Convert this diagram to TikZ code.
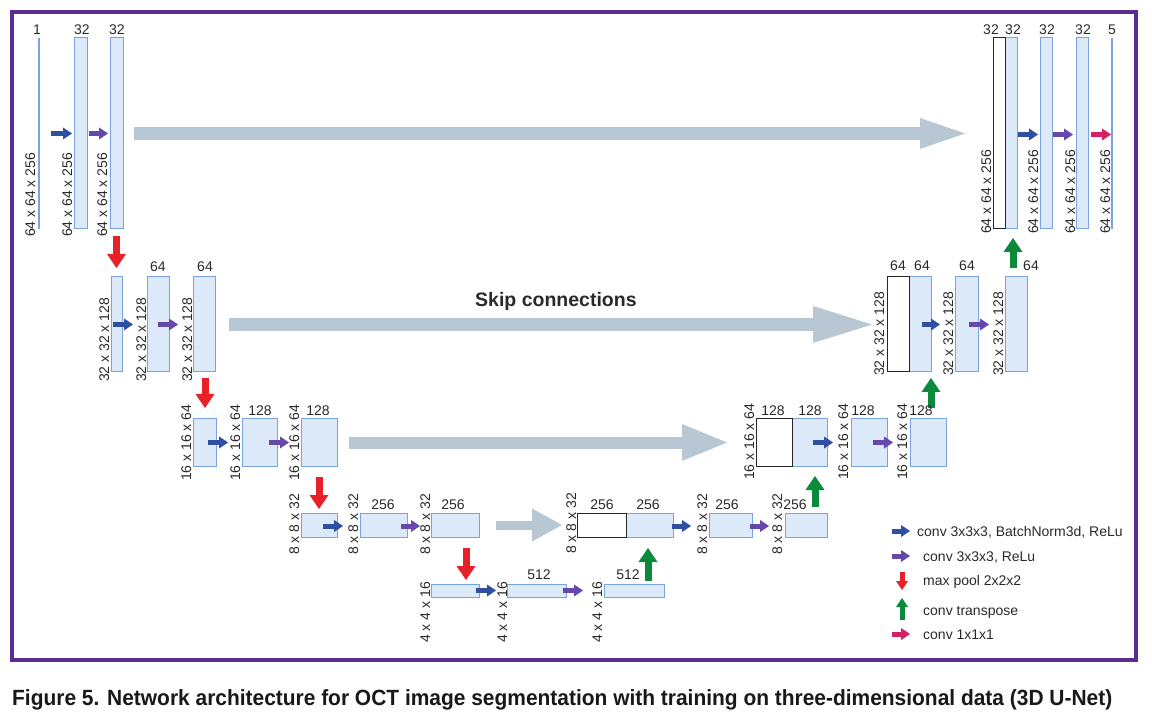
\documentclass[tikz,border=0pt]{standalone}
\usepackage{fontspec}
\setmainfont{Liberation Sans}
\usepackage{graphicx}
\usetikzlibrary{arrows.meta,calc}
\definecolor{frame}{HTML}{5C2D91}
\definecolor{boxfill}{HTML}{DCE9F8}
\definecolor{boxline}{HTML}{7AA2DE}
\definecolor{cblue}{HTML}{2F4FA3}
\definecolor{cpurple}{HTML}{6548AC}
\definecolor{cred}{HTML}{E8202A}
\definecolor{cgreen}{HTML}{0B8A3C}
\definecolor{cpink}{HTML}{D81E66}
\definecolor{skip}{HTML}{B7C7D3}
\definecolor{txt}{HTML}{2A2A2A}
\newcommand\bx[6]{\node[#6, minimum width=#4pt, minimum height=#5pt, anchor=north west] (#1) at (#2,#3) {};}
\newcommand\num[3]{\node[numtxt, anchor=base] (#1) at (#2) {#3};}
\newcommand\dimlab[3]{\node[numtxt, rotate=90, anchor=base west] (#1) at (#2) {#3};}
\begin{document}
\begin{tikzpicture}[x=1pt,y=-1pt,
  blk/.style={draw=boxline, fill=boxfill, line width=1pt, inner sep=0pt, outer sep=0pt},
  blkk/.style={draw=black!85, fill=white, line width=1pt, inner sep=0pt, outer sep=0pt},
  thin/.style={fill=boxline, draw=none, inner sep=0pt, outer sep=0pt},
  numtxt/.style={text=txt, font=\fontsize{14}{16}\selectfont, inner sep=0pt},
  sm/.style={line width=5pt, -{Triangle[length=9pt,width=12pt,line width=0pt]}},
  vert/.style={line width=7pt, -{Triangle[length=14pt,width=19pt,line width=0pt]}},
  legv/.style={line width=5pt, -{Triangle[length=9pt,width=12pt,line width=0pt]}},
]
\useasboundingbox (0,0) rectangle (1152,719);
\fill[white] (0,0) rectangle (1152,719);
\draw[frame, line width=4pt] (12,12) rectangle (1136,660);

% ---------- level 1
\bx{in}{38.3}{38}{1.4}{191}{thin}
\bx{A1}{74}{38}{13}{191}{blk}
\bx{A2}{110}{38}{13}{191}{blk}
\bx{R1a}{1005}{38}{12}{191}{blk}
\bx{R1k}{993}{38}{12}{191}{blkk}
\bx{R1b}{1040}{38}{12}{191}{blk}
\bx{R1c}{1076}{38}{12}{191}{blk}
\bx{out}{1111.3}{38}{1.4}{191}{thin}
% ---------- level 2
\bx{B1}{111}{277}{11}{95}{blk}
\bx{B2}{147}{277}{22}{95}{blk}
\bx{B3}{193}{277}{22}{95}{blk}
\bx{R2a}{909}{277}{22}{95}{blk}
\bx{R2k}{887}{277}{22}{95}{blkk}
\bx{R2b}{955}{277}{23}{95}{blk}
\bx{R2c}{1005}{277}{22}{95}{blk}
% ---------- level 3
\bx{C1}{193}{419}{23}{47}{blk}
\bx{C2}{242}{419}{35}{47}{blk}
\bx{C3}{301}{419}{36}{47}{blk}
\bx{R3a}{792}{419}{35}{47}{blk}
\bx{R3k}{756}{419}{36}{47}{blkk}
\bx{R3b}{851}{419}{36}{47}{blk}
\bx{R3c}{910}{419}{36}{47}{blk}
% ---------- level 4
\bx{D1}{301}{513}{36}{24}{blk}
\bx{D2}{360}{513}{47}{24}{blk}
\bx{D3}{431}{513}{48}{24}{blk}
\bx{R4a}{626}{513}{47}{24}{blk}
\bx{R4k}{577}{513}{49}{24}{blkk}
\bx{R4b}{709}{513}{43}{24}{blk}
\bx{R4c}{785}{513}{42}{24}{blk}
% ---------- level 5
\bx{E1}{431}{584}{48}{13}{blk}
\bx{E2}{507}{584}{59}{13}{blk}
\bx{E3}{604}{584}{60}{13}{blk}

% ---------- skip connections
\draw[skip, line width=13pt, -{Triangle[length=45pt,width=31pt,line width=0pt]}]
  ($(A2.east)+(11,0)$) -- ($(A2.east-|R1k.west)+(-28,0)$);
\draw[skip, line width=13pt, -{Triangle[length=59pt,width=37pt,line width=0pt]}]
  ($(B3.east)+(14,0)$) -- ($(B3.east-|R2k.west)+(-15,0)$);
\draw[skip, line width=12pt, -{Triangle[length=45pt,width=37pt,line width=0pt]}]
  ($(C3.east)+(12,0)$) -- ($(C3.east-|R3k.west)+(-29,0)$);
\draw[skip, line width=9pt, -{Triangle[length=30pt,width=33pt,line width=0pt]}]
  ($(D3.east)+(17,0)$) -- ($(D3.east-|R4k.west)+(-15,0)$);
\node[text=txt, font=\bfseries\fontsize{19.5}{22}\selectfont, anchor=base west, inner sep=0pt] (skiplab) at (475,307) {Skip connections};

% ---------- small horizontal arrows
\draw[sm, cblue]   ($(A1.west)+(-23,0)$) -- ($(A1.west)+(-2,0)$);
\draw[sm, cpurple] ($(A2.west)+(-21,0)$) -- ($(A2.west)+(-2,0)$);
\draw[sm, cblue]   ($(B1.east)+(-9,0)$) -- ($(B1.east)+(11,0)$);
\draw[sm, cpurple] ($(B2.east)+(-11,0)$) -- ($(B2.east)+(9,0)$);
\draw[sm, cblue]   ($(C1.east)+(-8,0)$) -- ($(C1.east)+(12,0)$);
\draw[sm, cpurple] ($(C2.east)+(-8,0)$) -- ($(C2.east)+(12,0)$);
\draw[sm, cblue]   ($(D1.east)+(-14,1)$) -- ($(D1.east)+(6,1)$);
\draw[sm, cpurple] ($(D2.east)+(-6,1)$) -- ($(D2.east)+(13,1)$);
\draw[sm, cblue]   ($(E1.east)+(-3,0)$) -- ($(E1.east)+(17,0)$);
\draw[sm, cpurple] ($(E2.east)+(-3,0)$) -- ($(E2.east)+(17,0)$);
\draw[sm, cblue]   ($(R4a.east)+(-1,1)$) -- ($(R4a.east)+(18,1)$);
\draw[sm, cpurple] ($(R4b.east)+(-2,1)$) -- ($(R4b.east)+(17,1)$);
\draw[sm, cblue]   ($(R3a.east)+(-14,0)$) -- ($(R3a.east)+(6,0)$);
\draw[sm, cpurple] ($(R3b.east)+(-14,0)$) -- ($(R3b.east)+(6,0)$);
\draw[sm, cblue]   ($(R2a.east)+(-9,0)$) -- ($(R2a.east)+(9,0)$);
\draw[sm, cpurple] ($(R2b.east)+(-9,0)$) -- ($(R2b.east)+(11,0)$);
\draw[sm, cblue]   ($(R1a.east)+(1,1)$) -- ($(R1a.east)+(21,1)$);
\draw[sm, cpurple] ($(R1b.east)+(1,1)$) -- ($(R1b.east)+(21,1)$);
\draw[sm, cpink]   ($(R1c.east)+(3,1)$) -- ($(R1c.east)+(23,1)$);

% ---------- vertical arrows
\draw[vert, cred] ($(A2.south)+(0,7)$) -- ($(A2.south)+(0,39)$);
\draw[vert, cred] ($(B3.south)+(1,6)$) -- ($(B3.south)+(1,36)$);
\draw[vert, cred] ($(C3.south)+(0,11)$) -- ($(C3.south)+(0,43)$);
\draw[vert, cred] ($(D3.south)+(11,11)$) -- ($(D3.south)+(11,43)$);
\draw[vert, cgreen] ($(E3.north)+(14,-3)$) -- ($(E3.north)+(14,-36)$);
\draw[vert, cgreen] ($(R4c.north)+(9,-6)$) -- ($(R4c.north)+(9,-37)$);
\draw[vert, cgreen] ($(R3c.north)+(3,-11)$) -- ($(R3c.north)+(3,-41)$);
\draw[vert, cgreen] ($(R2c.north)+(-3,-9)$) -- ($(R2c.north)+(-3,-39)$);

% ---------- channel numbers
\num{n1}{37,35}{1}
\num{n2}{82,35}{32}
\num{n3}{117,35}{32}
\num{n4}{991,35}{32}
\num{n5}{1013,35}{32}
\num{n6}{1047,35}{32}
\num{n7}{1083,35}{32}
\num{n8}{1112,35}{5}
\num{n9}{158,272}{64}
\num{n10}{205,272}{64}
\num{n11}{898,271}{64}
\num{n12}{922,271}{64}
\num{n13}{967,271}{64}
\num{n14}{1031,271}{64}
\num{n15}{260,415}{128}
\num{n16}{318,415}{128}
\num{n17}{773,415}{128}
\num{n18}{810,415}{128}
\num{n19}{863,415}{128}
\num{n20}{921,415}{128}
\num{n21}{383,509}{256}
\num{n22}{453,509}{256}
\num{n23}{602,509}{256}
\num{n24}{648,509}{256}
\num{n25}{727,509}{256}
\num{n26}{795,509}{256}
\num{n27}{539,579}{512}
\num{n28}{628,579}{512}

% ---------- size labels
\dimlab{d1}{35,237}{64 x 64 x 256}
\dimlab{d2}{72,237}{64 x 64 x 256}
\dimlab{d3}{107,237}{64 x 64 x 256}
\dimlab{d4}{991,234}{64 x 64 x 256}
\dimlab{d5}{1038,234}{64 x 64 x 256}
\dimlab{d6}{1075,234}{64 x 64 x 256}
\dimlab{d7}{1110,234}{64 x 64 x 256}
\dimlab{d8}{109,382}{32 x 32 x 128}
\dimlab{d9}{146,382}{32 x 32 x 128}
\dimlab{d10}{192,382}{32 x 32 x 128}
\dimlab{d11}{884,376}{32 x 32 x 128}
\dimlab{d12}{953,376}{32 x 32 x 128}
\dimlab{d13}{1003,376}{32 x 32 x 128}
\dimlab{d14}{191,481}{16 x 16 x 64}
\dimlab{d15}{240,481}{16 x 16 x 64}
\dimlab{d16}{299,481}{16 x 16 x 64}
\dimlab{d17}{754,480}{16 x 16 x 64}
\dimlab{d18}{848,480}{16 x 16 x 64}
\dimlab{d19}{907,480}{16 x 16 x 64}
\dimlab{d20}{299,555}{8 x 8 x 32}
\dimlab{d21}{358,555}{8 x 8 x 32}
\dimlab{d22}{430,555}{8 x 8 x 32}
\dimlab{d23}{576,554}{8 x 8 x 32}
\dimlab{d24}{707,555}{8 x 8 x 32}
\dimlab{d25}{782,555}{8 x 8 x 32}
\dimlab{d26}{430,643}{4 x 4 x 16}
\dimlab{d27}{507,643}{4 x 4 x 16}
\dimlab{d28}{602,643}{4 x 4 x 16}

% ---------- legend
\draw[legv, cblue] (892,531) -- (910,531);
\draw[legv, cpurple] (892,556) -- (910,556);
\draw[legv, cred] (902,572) -- (902,590);
\draw[legv, cgreen] (902,620) -- (902,598);
\draw[legv, cpink] (892,634) -- (910,634);
\node[numtxt, anchor=base west] (l1) at (917,536) {conv 3x3x3, BatchNorm3d, ReLu};
\node[numtxt, anchor=base west] (l2) at (923,561) {conv 3x3x3, ReLu};
\node[numtxt, anchor=base west] (l3) at (923,585) {max pool 2x2x2};
\node[numtxt, anchor=base west] (l4) at (923,615) {conv transpose};
\node[numtxt, anchor=base west] (l5) at (923,639) {conv 1x1x1};

% ---------- caption
\node[anchor=base west, inner sep=0pt, text=black!90, font=\bfseries\fontsize{22}{24}\selectfont] (cap) at (12,705)
  {\resizebox{1100pt}{\height}{Figure 5. Network architecture for OCT image segmentation with training on three-dimensional data (3D U-Net)}};
\end{tikzpicture}
\end{document}
